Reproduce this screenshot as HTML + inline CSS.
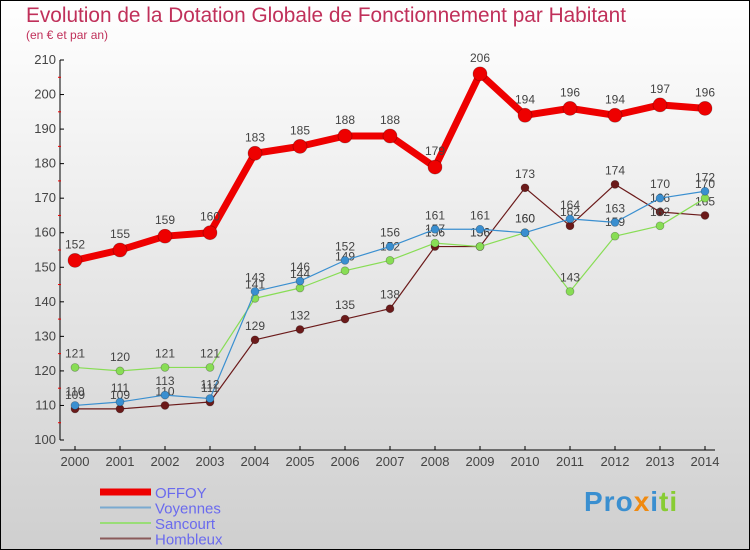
<!DOCTYPE html>
<html><head><meta charset="utf-8"><style>
body{margin:0}
svg{display:block}
text{font-family:"Liberation Sans",sans-serif}
</style></head><body>
<svg id="c" width="750" height="550" xmlns="http://www.w3.org/2000/svg">
<defs><linearGradient id="bg" x1="0" y1="0" x2="0" y2="1"><stop offset="0" stop-color="#ffffff"/><stop offset="1" stop-color="#cfcfcf"/></linearGradient></defs>
<rect x="0.5" y="0.5" width="749" height="549" fill="url(#bg)" stroke="#000"/>
<text x="26" y="22" font-size="20.8" fill="#c0305a">Evolution de la Dotation Globale de Fonctionnement par Habitant</text>
<text x="26" y="39" font-size="12" fill="#c0305a">(en € et par an)</text>
<g id="axes"></g><g id="series"></g><g id="legend"></g>
</svg>
<script>
const years=[2000,2001,2002,2003,2004,2005,2006,2007,2008,2009,2010,2011,2012,2013,2014];
const offoy=[152,155,159,160,183,185,188,188,179,206,194,196,194,197,196];
const voyennes=[110,111,113,112,143,146,152,156,161,161,160,164,163,170,172];
const sancourt=[121,120,121,121,141,144,149,152,157,156,160,143,159,162,170];
const hombleux=[109,109,110,111,129,132,135,138,156,156,173,162,174,166,165];
const yTicks=[100,110,120,130,140,150,160,170,180,190,200,210];
const NS='http://www.w3.org/2000/svg';
const xs=i=>75+i*45;
const ys=v=>440-(v-100)*380/110;
function mk(t,a,p){const e=document.createElementNS(NS,t);for(const k in a)e.setAttribute(k,a[k]);p.appendChild(e);return e;}
const ax=document.getElementById('axes');
const yl=mk('line',{x1:60,y1:ys(210),x2:60,y2:ys(100),stroke:'#000','stroke-width':1},ax);


const xl=mk('line',{x1:60,y1:450,x2:715,y2:450,stroke:'#000','stroke-width':1},ax);


yTicks.forEach(v=>{
  mk('line',{x1:60,y1:ys(v),x2:64,y2:ys(v),stroke:'#000'},ax);
  if(v<210)mk('line',{x1:58,y1:ys(v+5),x2:61,y2:ys(v+5),stroke:'#e00'},ax);
  const t=mk('text',{x:56,y:ys(v)+4,'text-anchor':'end','font-size':13,fill:'#444'},ax);
  t.textContent=v;
  
  
});
years.forEach((y,i)=>{
  mk('line',{x1:xs(i),y1:446,x2:xs(i),y2:450,stroke:'#000'},ax);
  const t=mk('text',{x:xs(i),y:466,'text-anchor':'middle','font-size':13,fill:'#444'},ax);
  t.textContent=y;
  
  
});
const sg=document.getElementById('series');
function series(data,color,w,r,name,dy){
  const g=mk('g',{},sg);
  
  
  mk('polyline',{points:data.map((v,i)=>xs(i)+','+ys(v)).join(' '),fill:'none',stroke:color,'stroke-width':w,'stroke-linejoin':'round'},g);
  data.forEach((v,i)=>{
    const c=mk('circle',{cx:xs(i),cy:ys(v),r:r,fill:color,stroke:'rgba(0,0,0,0.3)','stroke-width':0.7},g);
    
    
    const t=mk('text',{x:xs(i),y:ys(v)-dy,'text-anchor':'middle','font-size':12,fill:'#444'},g);
    t.textContent=v;
    
    
  });
}
series(hombleux,'#6b1a1a',1.2,4,'hombleux',10);
series(sancourt,'#88dd55',1.2,4,'sancourt',10);
series(voyennes,'#3a8fd0',1.2,4,'voyennes',10);
series(offoy,'#ee0000',7,7,'offoy',12);
const lg=document.getElementById('legend');
[['OFFOY','#ee0000',7],['Voyennes','#7aaad0',2],['Sancourt','#99dd77',2],['Hombleux','#8a5a5a',2]].forEach((d,i)=>{
  const y=492+i*15.5;
  const g=mk('g',{},lg);
  
  
  mk('line',{x1:100,y1:y,x2:151,y2:y,stroke:d[1],'stroke-width':d[2]},g);
  const t=mk('text',{x:155,y:y+6,'font-size':15,fill:'#6a6aee'},g);
  t.textContent=d[0];
});
</script>
<div style="position:absolute;left:584px;top:486px;font:bold 28px 'Liberation Sans',sans-serif;letter-spacing:1px"><span style="color:#3a8fd0">Pro</span><span style="color:#f08a10">x</span><span style="color:#3a8fd0">i</span><span style="color:#88cc33">ti</span></div>
</body></html>
